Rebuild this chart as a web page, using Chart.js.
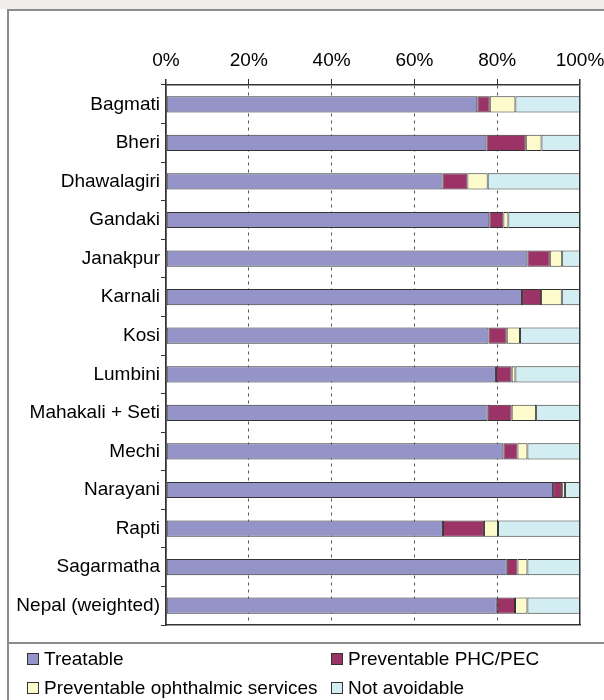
<!DOCTYPE html>
<html>
<head>
<meta charset="utf-8">
<script src="https://cdn.jsdelivr.net/npm/chart.js@4.4.1/dist/chart.umd.min.js"></script>
<style>
  html, body { margin: 0; padding: 0; background: #ffffff; }
  #page { position: relative; width: 604px; height: 700px; overflow: hidden; font-family: "Liberation Sans", Arial, sans-serif; }
  #strip { position: absolute; left: 0; top: 0; width: 604px; height: 9px; background: #f0ece9; }
  #frame { position: absolute; left: 7px; top: 9px; width: 620px; height: 720px; border-left: 2px solid #8c8c8c; border-top: 2px solid #8c8c8c; background: #ffffff; }
  #sep { position: absolute; left: 9px; top: 642px; width: 600px; height: 2px; background: #8c8c8c; }
  #chart { position: absolute; left: 0; top: 0; }
  .lg { position: absolute; font-size: 19px; color: #000; white-space: nowrap; line-height: 20px; }
  .lg i { position: absolute; left: 0; top: 4px; width: 10px; height: 10px; border: 1px solid #333; }
  .lg span { position: absolute; left: 17px; top: 0; }
</style>
</head>
<body>
<div id="page">
  <div id="strip"></div>
  <div id="frame"></div>
  <div id="sep"></div>
  <canvas id="chart" width="604" height="700"></canvas>
  <div id="legend"></div>
</div>
<script>
// Regions of Nepal and the share of blindness by cause group (%)
const regions = [
  "Bagmati", "Bheri", "Dhawalagiri", "Gandaki", "Janakpur", "Karnali", "Kosi",
  "Lumbini", "Mahakali + Seti", "Mechi", "Narayani", "Rapti", "Sagarmatha", "Nepal (weighted)"
];
const treatable     = [75.2, 77.4, 66.8, 78.1, 87.3, 86.0, 77.9, 79.7, 77.7, 81.5, 93.5, 66.9, 82.3, 79.9];
const preventPHC    = [ 3.0,  9.5,  6.0,  3.4,  5.4,  4.6,  4.4,  3.8,  5.8,  3.4,  2.2,  9.9,  2.6,  4.4];
const preventOphth  = [ 6.2,  3.8,  4.9,  1.2,  3.0,  5.0,  3.2,  0.9,  5.9,  2.4,  0.7,  3.4,  2.4,  3.0];
const notAvoidable  = [15.6,  9.3, 22.3, 17.3,  4.3,  4.4, 14.5, 15.6, 10.6, 12.7,  3.6, 19.8, 12.7, 12.7];
const percentTicks  = [0, 20, 40, 60, 80, 100];

const seriesNames  = ["Treatable", "Preventable PHC/PEC", "Preventable ophthalmic services", "Not avoidable"];
const seriesValues = [treatable, preventPHC, preventOphth, notAvoidable];
const seriesColors = ["#9494c8", "#9b3366", "#fdfacb", "#d3eef3"];

const FONT = { family: "'Liberation Sans', Arial, sans-serif", size: 19 };

const datasets = seriesNames.map((name, i) => ({
  label: name,
  data: seriesValues[i],
  backgroundColor: seriesColors[i],
  borderColor: "#333333",
  borderWidth: 1,
  borderSkipped: false,
  barPercentage: 0.42,
  categoryPercentage: 1.0
}));

const isEdge = (c) => c.tick && (c.tick.value === 0 || c.tick.value === 100);

new Chart(document.getElementById("chart"), {
  type: "bar",
  data: { labels: regions, datasets },
  options: {
    indexAxis: "y",
    responsive: false,
    animation: false,
    events: [],
    layout: { padding: { left: 0, top: 0, right: 24, bottom: 75 } },
    plugins: { legend: { display: false }, tooltip: { enabled: false } },
    scales: {
      x: {
        position: "top",
        stacked: true,
        min: 0,
        max: 100,
        afterBuildTicks: (s) => { s.ticks = percentTicks.map(v => ({ value: v })); },
        afterFit: (s) => { s.height = 85; s.paddingLeft = 0; s.paddingRight = 0; },
        ticks: {
          color: "#000",
          font: FONT,
          padding: 7,
          maxRotation: 0,
          callback: (v) => v + "%"
        },
        grid: {
          drawOnChartArea: true,
          drawTicks: true,
          tickLength: 6,
          tickColor: "#333",
          tickBorderDash: [],
          color: (c) => isEdge(c) ? "#333" : "#555",
          lineWidth: (c) => isEdge(c) ? 1.5 : 1
        },
        border: {
          display: true,
          color: "#333",
          width: 1.5,
          dash: (c) => isEdge(c) ? [] : [3, 4]
        }
      },
      x2: {
        position: "bottom",
        axis: "x",
        min: 0,
        max: 100,
        afterFit: (s) => { s.height = 0; s.paddingLeft = 0; s.paddingRight = 0; },
        ticks: { display: false },
        grid: { display: false },
        border: { display: true, color: "#333", width: 1.5 }
      },
      y: {
        stacked: true,
        afterFit: (s) => { s.width = 166; s.paddingTop = 0; s.paddingBottom = 0; },
        ticks: { color: "#000", font: FONT, padding: 1 },
        grid: {
          offset: true,
          drawOnChartArea: false,
          drawTicks: true,
          tickLength: 5,
          tickColor: "#333",
          color: "#333"
        },
        border: { display: true, color: "#333", width: 1.5 }
      }
    }
  }
});

// Two-column legend under the plot
const legendPos = [
  { x: 27,  y: 649 },
  { x: 331, y: 649 },
  { x: 27,  y: 678 },
  { x: 331, y: 678 }
];
const legend = document.getElementById("legend");
seriesNames.forEach((name, i) => {
  const item = document.createElement("div");
  item.className = "lg";
  item.style.left = legendPos[i].x + "px";
  item.style.top = legendPos[i].y + "px";
  const box = document.createElement("i");
  box.style.background = seriesColors[i];
  const txt = document.createElement("span");
  txt.textContent = name;
  item.appendChild(box);
  item.appendChild(txt);
  legend.appendChild(item);
});
</script>
</body>
</html>
